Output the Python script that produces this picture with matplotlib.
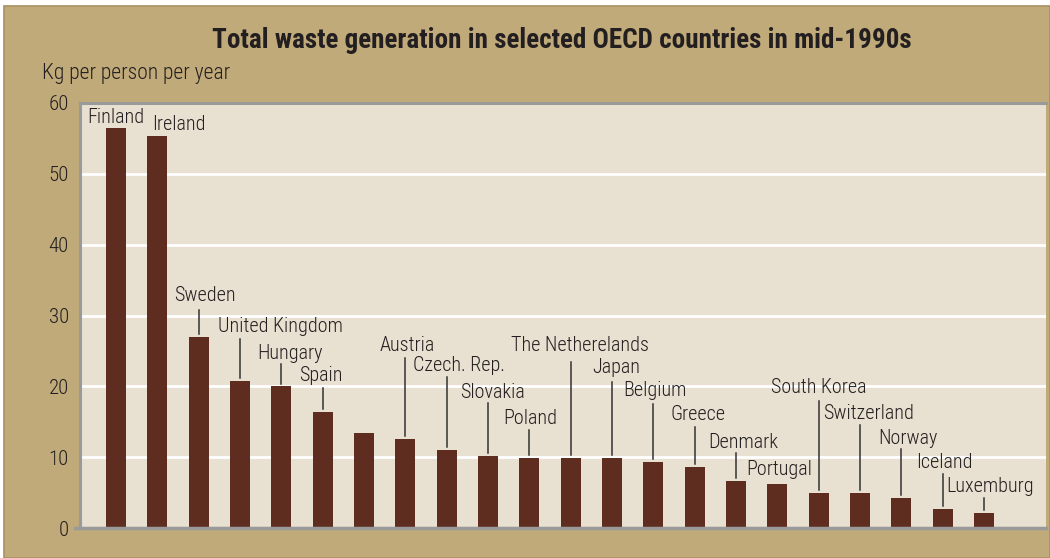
import matplotlib
matplotlib.use("Agg")
import matplotlib.pyplot as plt
from matplotlib import font_manager
from matplotlib.patches import Rectangle
from matplotlib.lines import Line2D

# waste per head, kg per person per year
countries = ["Finland", "Ireland", "Sweden", "United Kingdom", "Hungary", "Spain", "",
             "Austria", "Czech. Rep.", "Slovakia", "Poland", "The Netherelands", "Japan",
             "Belgium", "Greece", "Denmark", "Portugal", "South Korea", "Switzerland",
             "Norway", "Iceland", "Luxemburg"]
waste = [56.5, 55.4, 27.0, 20.8, 20.0, 16.4, 13.4, 12.6, 11.0, 10.2, 9.9, 9.9, 9.9,
         9.3, 8.6, 6.6, 6.2, 4.9, 4.9, 4.2, 2.7, 2.1]
yticks = [0, 10, 20, 30, 40, 50, 60]

# label placement: x shift (bar units), text y, top of leader (None = no leader)
lab_dx = [0.0, 0.53, 0.15, 0.97, 0.22, -0.05, 0, 0.05, 0.31, 0.12, 0.02, 0.22, 0.10,
          0.05, 0.07, 0.17, 0.05, 0.0, 0.20, 0.17, 0.05, 0.15]
lab_y = [58.0, 56.9, 32.8, 28.5, 24.7, 21.5, 0, 25.8, 22.9, 19.2, 15.4, 25.7, 22.6,
         19.4, 16.0, 12.0, 8.3, 19.8, 16.2, 12.6, 9.3, 5.8]
lead_top = [None, None, 30.8, 26.7, 23.2, 19.8, None, 24.0, 21.3, 17.7, 13.8, 23.4,
            20.6, 17.5, 14.3, 10.6, None, 17.9, 14.5, 11.2, 7.6, 4.2]

TAN = "#c0aa7a"
PANEL = "#e8e0d0"
BAR = "#5f2d20"
INK = "#231f20"
AXIS = "#9a9a9a"

# pick a narrow face if the system has one
available = {(f.name, f.stretch) for f in font_manager.fontManager.ttflist}
names = {n for n, _ in available}
stretch = "normal"
family = "DejaVu Sans"
if "Roboto Condensed" in names:
    family = "Roboto Condensed"
elif "Liberation Sans Narrow" in names:
    family = "Liberation Sans Narrow"
elif ("DejaVu Sans", "condensed") in available or ("DejaVu Sans", "semi-condensed") in available:
    stretch = "condensed"
else:
    family = "Roboto"
plt.rcParams["font.family"] = family
plt.rcParams["font.stretch"] = stretch
plt.rcParams["font.weight"] = "light"

fig = plt.figure(figsize=(10.5, 5.58), dpi=100, facecolor="white")
fig.patches.append(Rectangle((4 / 1050, 0), 1 - 4 / 1050, 1 - 6 / 558,
                             transform=fig.transFigure, facecolor=TAN,
                             edgecolor="#a89060", linewidth=1.2, zorder=-10))

ax = fig.add_axes([80 / 1050, 30 / 558, 966 / 1050, 425 / 558])
ax.set_facecolor(PANEL)

x = list(range(len(waste)))
ax.bar(x, waste, width=0.48, color=BAR, zorder=3)

for i, name in enumerate(countries):
    if not name:
        continue
    ax.text(i + lab_dx[i], lab_y[i], name, ha="center", va="center",
            fontsize=14.5, color=INK, zorder=4)
    if lead_top[i] is not None:
        ax.plot([i, i], [waste[i] + 0.4, lead_top[i]], color="#333333",
                linewidth=1.1, zorder=4)

ax.set_xlim(-0.87, 22.5)
ax.set_ylim(0, 60)
ax.set_yticks(yticks)
ax.set_xticks([])
ax.tick_params(axis="y", length=0, pad=8, labelsize=15, labelcolor=INK)
ax.yaxis.grid(True, color="white", linewidth=2, zorder=1)
ax.set_axisbelow(True)

for side in ["right"]:
    ax.spines[side].set_visible(False)
for side in ["left", "top", "bottom"]:
    ax.spines[side].set_color(AXIS)
    ax.spines[side].set_linewidth(2.2)
ax.add_line(Line2D([-0.005, 1], [0, 0], transform=ax.transAxes, color=AXIS,
                   linewidth=2.5, clip_on=False, zorder=5))

fig.text(0.535, 1 - 40 / 558, "Total waste generation in selected OECD countries in mid-1990s",
         ha="center", va="center", fontsize=19.5, fontweight="bold", color=INK)
fig.text(42 / 1050, 1 - 73 / 558, "Kg per person per year", ha="left", va="center",
         fontsize=15.5, color=INK)

fig.savefig("out.png", dpi=100, facecolor=fig.get_facecolor())
